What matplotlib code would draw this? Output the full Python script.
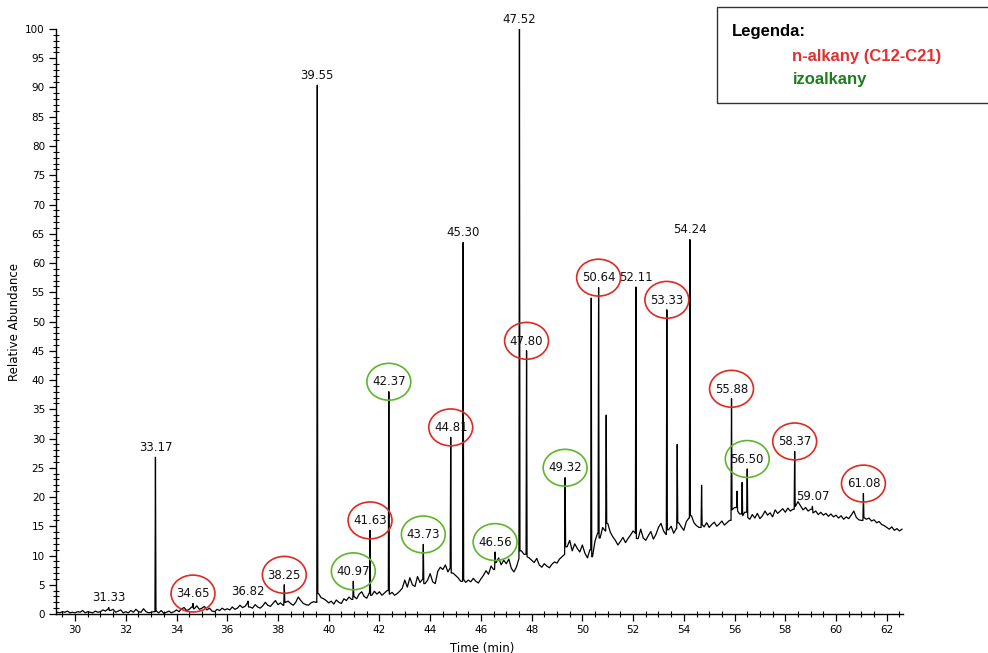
import numpy as np
import matplotlib
matplotlib.use('Agg')
import matplotlib.pyplot as plt
from matplotlib.patches import Ellipse, Rectangle
from matplotlib.ticker import MultipleLocator

# TIC baseline sampled every 0.1 min (time in min, relative abundance)
base_t = [29.3, 29.4, 29.5, 29.6, 29.7, 29.8, 29.9,
          30.0, 30.1, 30.2, 30.3, 30.4, 30.5, 30.6, 30.7, 30.8, 30.9,
          31.0, 31.1, 31.2, 31.3, 31.4, 31.5, 31.6, 31.7, 31.8, 31.9,
          32.0, 32.1, 32.2, 32.3, 32.4, 32.5, 32.6, 32.7, 32.8, 32.9,
          33.0, 33.1, 33.2, 33.3, 33.4, 33.5, 33.6, 33.7, 33.8, 33.9,
          34.0, 34.1, 34.2, 34.3, 34.4, 34.5, 34.6, 34.7, 34.8, 34.9,
          35.0, 35.1, 35.2, 35.3, 35.4, 35.5, 35.6, 35.7, 35.8, 35.9,
          36.0, 36.1, 36.2, 36.3, 36.4, 36.5, 36.6, 36.7, 36.8, 36.9,
          37.0, 37.1, 37.2, 37.3, 37.4, 37.5, 37.6, 37.7, 37.8, 37.9,
          38.0, 38.1, 38.2, 38.3, 38.4, 38.5, 38.6, 38.7, 38.8, 38.9,
          39.0, 39.1, 39.2, 39.3, 39.4, 39.5, 39.6, 39.7, 39.8, 39.9,
          40.0, 40.1, 40.2, 40.3, 40.4, 40.5, 40.6, 40.7, 40.8, 40.9,
          41.0, 41.1, 41.2, 41.3, 41.4, 41.5, 41.6, 41.7, 41.8, 41.9,
          42.0, 42.1, 42.2, 42.3, 42.4, 42.5, 42.6, 42.7, 42.8, 42.9,
          43.0, 43.1, 43.2, 43.3, 43.4, 43.5, 43.6, 43.7, 43.8, 43.9,
          44.0, 44.1, 44.2, 44.3, 44.4, 44.5, 44.6, 44.7, 44.8, 44.9,
          45.0, 45.1, 45.2, 45.3, 45.4, 45.5, 45.6, 45.7, 45.8, 45.9,
          46.0, 46.1, 46.2, 46.3, 46.4, 46.5, 46.6, 46.7, 46.8, 46.9,
          47.0, 47.1, 47.2, 47.3, 47.4, 47.5, 47.6, 47.7, 47.8, 47.9,
          48.0, 48.1, 48.2, 48.3, 48.4, 48.5, 48.6, 48.7, 48.8, 48.9,
          49.0, 49.1, 49.2, 49.3, 49.4, 49.5, 49.6, 49.7, 49.8, 49.9,
          50.0, 50.1, 50.2, 50.3, 50.4, 50.5, 50.6, 50.7, 50.8, 50.9,
          51.0, 51.1, 51.2, 51.3, 51.4, 51.5, 51.6, 51.7, 51.8, 51.9,
          52.0, 52.1, 52.2, 52.3, 52.4, 52.5, 52.6, 52.7, 52.8, 52.9,
          53.0, 53.1, 53.2, 53.3, 53.4, 53.5, 53.6, 53.7, 53.8, 53.9,
          54.0, 54.1, 54.2, 54.3, 54.4, 54.5, 54.6, 54.7, 54.8, 54.9,
          55.0, 55.1, 55.2, 55.3, 55.4, 55.5, 55.6, 55.7, 55.8, 55.9,
          56.0, 56.1, 56.2, 56.3, 56.4, 56.5, 56.6, 56.7, 56.8, 56.9,
          57.0, 57.1, 57.2, 57.3, 57.4, 57.5, 57.6, 57.7, 57.8, 57.9,
          58.0, 58.1, 58.2, 58.3, 58.4, 58.5, 58.6, 58.7, 58.8, 58.9,
          59.0, 59.1, 59.2, 59.3, 59.4, 59.5, 59.6, 59.7, 59.8, 59.9,
          60.0, 60.1, 60.2, 60.3, 60.4, 60.5, 60.6, 60.7, 60.8, 60.9,
          61.0, 61.1, 61.2, 61.3, 61.4, 61.5, 61.6, 61.7, 61.8, 61.9,
          62.0, 62.1, 62.2, 62.3, 62.4, 62.5, 62.6]
base_y = [0.3, 0.2, 0.4, 0.3, 0.5, 0.2, 0.3,
          0.2, 0.4, 0.3, 0.6, 0.2, 0.4, 0.3, 0.2, 0.5, 0.3,
          0.4, 0.7, 0.5, 0.9, 0.6, 0.8, 0.3, 0.5, 0.7, 0.2,
          0.4, 0.2, 0.6, 0.3, 0.8, 0.4, 0.3, 0.9, 0.4, 0.2,
          0.3, 0.4, 0.5, 0.2, 0.6, 0.1, 0.3, 0.5, 0.2, 0.4,
          0.7, 0.4, 0.9, 1.1, 0.6, 0.8, 1.2, 0.9, 1.4, 0.8,
          1.0, 1.3, 0.7, 1.0, 0.5, 0.4, 0.8, 0.6, 1.0, 0.7,
          0.9, 0.7, 1.2, 0.8, 1.0, 1.5, 1.1, 1.3, 1.9, 1.2,
          1.0, 1.6, 1.2, 1.0, 1.4, 2.0, 1.5, 1.3, 1.8, 2.3,
          1.6, 1.9, 1.5, 2.0, 2.2, 1.8, 1.5, 2.0, 2.9, 2.3,
          1.8, 1.6, 1.5, 1.9, 2.1, 2.0, 3.5, 2.8, 2.6, 2.3,
          1.9, 2.2, 1.7, 2.4, 2.0, 1.8, 2.6, 2.3, 2.9, 2.5,
          3.0, 2.6, 3.4, 3.8, 3.0, 2.7, 3.6, 3.2, 3.9, 3.4,
          3.8, 3.2, 3.6, 4.0, 3.4, 3.7, 3.2, 3.5, 3.9, 4.4,
          5.8, 4.6, 6.2, 5.0, 4.7, 6.4, 5.4, 6.0, 5.2, 5.8,
          6.9, 5.5, 5.2, 7.3, 8.0, 7.6, 8.4, 7.2, 7.9, 7.0,
          6.6, 6.2, 5.6, 5.9, 5.4, 5.8, 5.5, 6.1, 5.6, 5.3,
          6.0, 6.6, 7.4, 6.8, 8.2, 7.6, 8.8, 9.6, 8.4, 9.2,
          8.6, 9.4, 7.8, 7.2, 8.0, 9.5, 10.8, 10.2, 9.8, 9.6,
          9.2, 8.8, 9.5, 8.4, 8.0, 8.6, 8.2, 7.9, 8.5, 8.9,
          8.7, 9.4, 9.8, 10.2, 11.5, 12.6, 10.8, 12.0, 11.2, 10.6,
          11.8, 10.4, 9.6, 11.0, 9.8, 12.5, 13.8, 13.0, 14.8, 14.2,
          15.5, 14.0, 13.2, 12.6, 11.8, 12.4, 13.1, 12.2, 12.9, 13.5,
          14.2, 13.8, 12.9, 14.5, 13.0, 12.6, 13.4, 14.1, 12.8, 13.6,
          14.8, 15.5, 14.2, 13.6, 14.4, 15.0, 13.8, 14.6, 15.6, 14.9,
          14.3, 15.8, 16.4, 16.8, 15.6, 15.1, 14.8, 15.3, 14.9, 15.6,
          14.8, 15.3, 15.7, 15.0, 15.4, 15.9, 15.2, 15.6, 16.0, 17.8,
          18.2, 17.6, 17.1, 16.8, 17.4, 16.5, 16.2, 17.0, 16.4, 17.2,
          16.3, 16.8, 17.6, 16.9, 17.3, 16.6, 17.8, 17.2, 17.6, 18.0,
          17.4, 18.1, 17.6, 17.9, 18.4, 19.2, 18.5, 17.8, 18.2, 17.6,
          17.9, 17.3, 17.6, 17.0, 17.4, 16.9, 17.2, 16.7, 17.1, 16.6,
          16.9, 16.4, 16.8, 16.2, 16.6, 16.3, 16.9, 17.6, 16.5, 16.1,
          16.0, 16.5, 16.2, 16.4, 15.9, 16.1, 15.6, 15.8, 15.3, 15.1,
          14.8, 14.5, 14.9, 14.3, 14.6, 14.2, 14.5]

# sharp peaks: retention time (min) and apex height
peak_t = [31.33, 33.17, 34.65, 36.82, 38.25, 39.55, 40.97, 41.63, 42.37, 43.73,
          44.81, 45.30, 46.56, 47.52, 47.80, 49.32, 50.35, 50.64, 50.94, 52.11,
          53.33, 53.74, 54.24, 54.70, 55.88, 56.10, 56.30, 56.50, 58.37, 59.07,
          61.08]
peak_h = [1.1, 26.8, 1.8, 2.2, 5.0, 90.4, 5.6, 14.3, 38.0, 11.9,
          30.2, 63.5, 10.6, 100.0, 45.0, 23.3, 54.0, 55.8, 34.0, 55.9,
          52.0, 29.0, 64.0, 22.0, 36.8, 21.0, 22.5, 24.8, 27.8, 18.4,
          20.6]

# labelled retention times; 'n' = n-alkane, 'iso' = isoalkane
label_t = [31.33, 33.17, 34.65, 36.82, 38.25, 39.55, 40.97, 41.63, 42.37, 43.73,
           44.81, 45.30, 46.56, 47.52, 47.80, 49.32, 50.64, 52.11, 53.33, 54.24,
           55.88, 56.50, 58.37, 59.07, 61.08]
label_kind = ['', '', 'n', '', 'n', '', 'iso', 'n', 'iso', 'iso',
              'n', '', 'iso', '', 'n', 'iso', 'n', '', 'n', '',
              'n', 'iso', 'n', '', 'n']

ring_color = {'n': '#dd2a22', 'iso': '#5fb52c'}

# merge baseline and spikes into one trace; baseline samples sitting on a
# spike are dropped so the spike stays a thin line
pk = np.array(peak_t)
trace = [(t, y) for t, y in zip(base_t, base_y) if np.min(np.abs(pk - t)) > 0.03]
for t, h in zip(peak_t, peak_h):
    i = int(np.searchsorted(base_t, t))
    trace += [(t - 0.02, base_y[i - 1]), (t, h), (t + 0.02, base_y[i])]
trace.sort()
tr_t = [p[0] for p in trace]
tr_y = [p[1] for p in trace]

fig = plt.figure(figsize=(9.88, 6.53), dpi=100)
ax = fig.add_axes([0.0567, 0.0597, 0.857, 0.8959])

ax.plot(tr_t, tr_y, color='black', lw=0.9)

apex = dict(zip(peak_t, peak_h))
for t, kind in zip(label_t, label_kind):
    h = apex[t]
    ax.annotate(f'{t:.2f}', (t, h), xytext=(0, 7), textcoords='offset points',
                ha='center', va='center', fontsize=8.5, color='#111111')
    if kind:
        ax.add_patch(Ellipse((t, h + 1.7), 1.73, 6.3, fill=False,
                             edgecolor=ring_color[kind], lw=1.2, zorder=5))

ax.set_xlim(29.25, 62.63)
ax.set_ylim(0, 100)
ax.xaxis.set_major_locator(MultipleLocator(2))
ax.xaxis.set_minor_locator(MultipleLocator(0.5))
ax.yaxis.set_major_locator(MultipleLocator(5))
ax.yaxis.set_minor_locator(MultipleLocator(1))
ax.tick_params(which='major', direction='out', length=5, width=0.9, labelsize=7.5, pad=3)
ax.tick_params(which='minor', direction='inout', length=4, width=0.8)

for side in ('top', 'right'):
    ax.spines[side].set_visible(False)
for side in ('left', 'bottom'):
    ax.spines[side].set_linewidth(1.0)

ax.set_ylabel('Relative Abundance', fontsize=8.5)
ax.yaxis.set_label_coords(-0.041, 0.5)
ax.set_xlabel('Time (min)', fontsize=8.5)
ax.xaxis.set_label_coords(0.503, -0.047)

# legend box in the top-right corner
fig.patches.append(Rectangle((0.7257, 0.842), 0.3, 0.147, transform=fig.transFigure,
                             fill=False, edgecolor='#333333', lw=1.0))
fig.text(0.741, 0.951, 'Legenda:', fontsize=12, fontweight='bold',
         family='Liberation Sans', va='center', color='black')
fig.text(0.802, 0.913, 'n-alkany (C12-C21)', fontsize=12, fontweight='bold',
         family='Liberation Sans', va='center', color='#e03030')
fig.text(0.802, 0.879, 'izoalkany', fontsize=12, fontweight='bold',
         family='Liberation Sans', va='center', color='#1e7d1e')

fig.savefig('out.png', dpi=100)
